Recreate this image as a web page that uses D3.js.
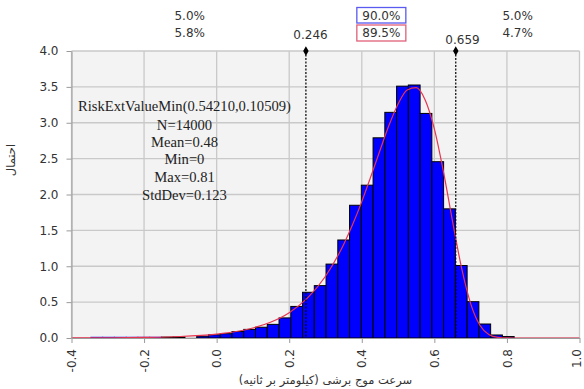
<!DOCTYPE html>
<html>
<head>
<meta charset="utf-8">
<script src="https://cdn.jsdelivr.net/npm/d3@7"></script>
<style>
  html, body { margin: 0; padding: 0; background: #ffffff; }
  svg { display: block; }
</style>
</head>
<body>
<svg id="chart" width="584" height="389"></svg>
<script>
// ---------- data ----------
const binMin = -0.3465;
const binWidth = 0.0324;
const binDensity = [0.010, 0.010, 0.010, 0.010, 0.010, 0.010, 0.012, 0.014, 0.000, 0.025,
                    0.045, 0.060, 0.090, 0.120, 0.150, 0.190, 0.280, 0.440, 0.637, 0.730,
                    1.030, 1.366, 1.850, 2.130, 2.790, 3.145, 3.510, 3.526, 3.130, 2.457,
                    1.800, 1.010, 0.506, 0.195, 0.042, 0.020];
const fitX = [-0.4, -0.3, -0.2, -0.1, 0.0, 0.05, 0.1, 0.15, 0.2, 0.25, 0.3, 0.35, 0.375, 0.4, 0.425,
              0.45, 0.475, 0.5, 0.525, 0.55, 0.575, 0.6, 0.625, 0.65, 0.675, 0.7, 0.725, 0.75, 0.775, 0.8, 0.85, 1.0];
const fitY = [0.001, 0.003, 0.008, 0.021, 0.055, 0.087, 0.140, 0.223, 0.353, 0.555, 0.861, 1.304, 1.584, 1.901, 2.250,
              2.613, 2.964, 3.262, 3.457, 3.490, 3.315, 2.914, 2.318, 1.630, 0.976, 0.480, 0.181, 0.050, 0.009, 0.001, 0.0, 0.0];
const xTicks = [-0.4, -0.2, 0.0, 0.2, 0.4, 0.6, 0.8, 1.0];
const xTickLabels = ["-0.4", "-0.2", "0.0", "0.2", "0.4", "0.6", "0.8", "1.0"];
const yTicks = [0.0, 0.5, 1.0, 1.5, 2.0, 2.5, 3.0, 3.5, 4.0];
const yTickLabels = ["0.0", "0.5", "1.0", "1.5", "2.0", "2.5", "3.0", "3.5", "4.0"];
const markerValues = [0.246, 0.659];
const markerLabels = ["0.246", "0.659"];
const targetPct = ["5.0%", "90.0%", "5.0%"];
const simPct = ["5.8%", "89.5%", "4.7%"];
const statsLines = ["RiskExtValueMin(0.54210,0.10509)", "N=14000", "Mean=0.48", "Min=0", "Max=0.81", "StdDev=0.123"];
const xTitle = "سرعت موج برشی (کیلومتر بر ثانیه)";
const yTitle = "احتمال";

// ---------- layout ----------
const L = 71.5, R = 579.5, T = 51, B = 338;
const svg = d3.select("#chart");
const x = d3.scaleLinear().domain([-0.4, 1.0]).range([L, R]);
const y = d3.scaleLinear().domain([0, 4]).range([B, T]);
const numFont = "'DejaVu Sans', Verdana, sans-serif";

// plot background
svg.append("rect").attr("x", L).attr("y", T).attr("width", R - L).attr("height", B - T)
  .attr("fill", "#f3f3f3");

// grid
svg.append("g").selectAll("line").data(yTicks).join("line")
  .attr("x1", L).attr("x2", R).attr("y1", d => y(d)).attr("y2", d => y(d))
  .attr("stroke", "#c9c9c9").attr("stroke-width", 1.3);
svg.append("g").selectAll("line").data(xTicks).join("line")
  .attr("y1", T).attr("y2", B).attr("x1", d => x(d)).attr("x2", d => x(d))
  .attr("stroke", "#c9c9c9").attr("stroke-width", 1.3);

// histogram bars
svg.append("g").selectAll("rect").data(binDensity).join("rect")
  .attr("x", (d, i) => x(binMin + i * binWidth))
  .attr("width", (d, i) => x(binMin + (i + 1) * binWidth) - x(binMin + i * binWidth))
  .attr("y", d => y(d))
  .attr("height", d => B - y(d))
  .attr("fill", "#0000ff")
  .attr("stroke", (d, i) => (d > 0 && d <= 0.01) ? "#1a1aee" : "#000000")
  .attr("stroke-width", 1)
  .attr("stroke-opacity", d => d === 0 ? 0 : 1);

// fitted curve
const fitPts = fitX.map((v, i) => [v, fitY[i]]);
svg.append("path").datum(fitPts)
  .attr("d", d3.line().x(d => x(d[0])).y(d => y(d[1])).curve(d3.curveMonotoneX))
  .attr("fill", "none").attr("stroke", "#e8334f").attr("stroke-width", 1.2);

// axes
const xAxis = d3.axisBottom(x).tickValues(xTicks).tickFormat((d, i) => xTickLabels[i]).tickSize(5).tickSizeOuter(0);
const gx = svg.append("g").attr("transform", `translate(0,${B})`).call(xAxis);
gx.select(".domain").attr("stroke", "#9a9a9a");
gx.selectAll(".tick line").attr("stroke", "#9a9a9a");
gx.selectAll(".tick text")
  .attr("font-family", numFont).attr("font-size", 12).attr("fill", "#333")
  .attr("transform", "rotate(-90)")
  .attr("text-anchor", "end")
  .attr("x", -11).attr("y", (d, i) => i === xTicks.length - 1 ? -3 : 0).attr("dy", "0.35em");

const yAxis = d3.axisLeft(y).tickValues(yTicks).tickFormat((d, i) => yTickLabels[i]).tickSize(5).tickSizeOuter(0);
const gy = svg.append("g").attr("transform", `translate(${L},0)`).call(yAxis);
gy.select(".domain").attr("stroke", "#9a9a9a");
gy.selectAll(".tick line").attr("stroke", "#9a9a9a");
gy.selectAll(".tick text")
  .attr("font-family", numFont).attr("font-size", 12).attr("fill", "#333")
  .attr("x", -13);

// axis titles
svg.append("text").attr("x", (L + R) / 2).attr("y", 384)
  .attr("text-anchor", "middle").attr("font-family", "'DejaVu Sans', 'Noto Sans', sans-serif")
  .attr("font-size", 11.5).attr("fill", "#333").attr("direction", "rtl")
  .text(xTitle);
svg.append("text").attr("transform", "translate(15,160) rotate(-90)")
  .attr("text-anchor", "middle").attr("font-family", "'DejaVu Sans', 'Noto Sans', sans-serif")
  .attr("font-size", 11.5).attr("fill", "#333")
  .text(yTitle);

// marker lines
const mg = svg.append("g");
mg.selectAll("line").data(markerValues).join("line")
  .attr("x1", d => x(d)).attr("x2", d => x(d)).attr("y1", T).attr("y2", B)
  .attr("stroke", "#000").attr("stroke-width", 1.2).attr("stroke-dasharray", "2,1.5");
mg.selectAll("path").data(markerValues).join("path")
  .attr("d", d3.symbol().type(d3.symbolDiamond).size(26))
  .attr("transform", d => `translate(${x(d)},${T})`)
  .attr("fill", "#000");
const markerLabelPos = [[310.5, 38.5], [462.5, 43.5]];
mg.selectAll("text").data(markerLabels).join("text")
  .attr("x", (d, i) => markerLabelPos[i][0]).attr("y", (d, i) => markerLabelPos[i][1])
  .attr("text-anchor", "middle").attr("font-family", numFont).attr("font-size", 12).attr("fill", "#333")
  .text(d => d);

// percentage annotations
const regionCenters = [(L + x(markerValues[0])) / 2 + 1, (x(markerValues[0]) + x(markerValues[1])) / 2 + 0.5, (x(markerValues[1]) + R) / 2];
const pg = svg.append("g");
pg.selectAll("text.t").data(targetPct).join("text").attr("class", "t")
  .attr("x", (d, i) => regionCenters[i]).attr("y", 19.5)
  .attr("text-anchor", "middle").attr("font-family", numFont).attr("font-size", 12).attr("fill", "#333")
  .text(d => d);
pg.selectAll("text.s").data(simPct).join("text").attr("class", "s")
  .attr("x", (d, i) => regionCenters[i]).attr("y", 37)
  .attr("text-anchor", "middle").attr("font-family", numFont).attr("font-size", 12).attr("fill", "#333")
  .text(d => d);
// boxes around middle values
pg.append("rect").attr("x", regionCenters[1] - 24.5).attr("y", 7.5).attr("width", 49).attr("height", 15.5)
  .attr("fill", "none").attr("stroke", "#5a5af0").attr("stroke-width", 1.3);
pg.append("rect").attr("x", regionCenters[1] - 24.5).attr("y", 25).attr("width", 49).attr("height", 16)
  .attr("fill", "none").attr("stroke", "#e0607a").attr("stroke-width", 1.3);

// stats text
const sg = svg.append("g");
const statY = [110.5, 129.5, 146.5, 164, 182, 199.5];
sg.selectAll("text").data(statsLines).join("text")
  .attr("x", 184.5).attr("y", (d, i) => statY[i])
  .attr("text-anchor", "middle").attr("font-family", "'Liberation Serif', 'Times New Roman', serif")
  .attr("font-size", 14.6).attr("fill", "#222")
  .text(d => d);
</script>
</body>
</html>
